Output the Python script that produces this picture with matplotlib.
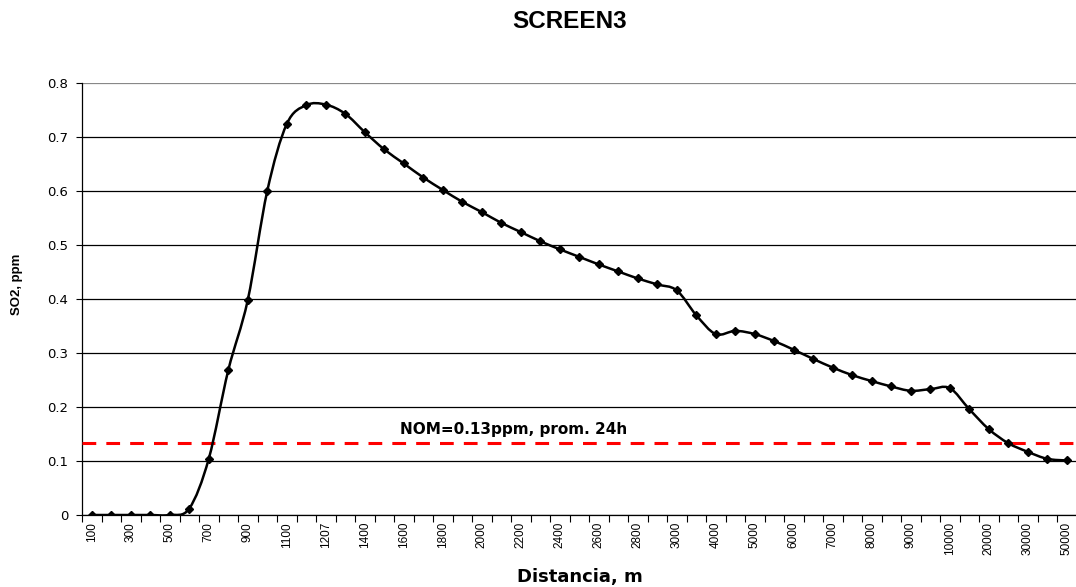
import matplotlib
matplotlib.use('Agg')
import matplotlib.pyplot as plt
from matplotlib.path import Path
from matplotlib.patches import PathPatch
import numpy as np

###       DATA        ###
distances = ['100', '200', '300', '400', '500', '600', '700', '800', '900', '1000',
             '1100', '1200', '1207', '1300', '1400', '1500', '1600', '1700', '1800', '1900',
             '2000', '2100', '2200', '2300', '2400', '2500', '2600', '2700', '2800', '2900',
             '3000', '3500', '4000', '4500', '5000', '5500', '6000', '6500', '7000', '7500',
             '8000', '8500', '9000', '9500', '10000', '15000', '20000', '25000', '30000', '40000',
             '50000']
so2 = [0.0, 0.0, 0.0, 0.0, 0.0, 0.012, 0.104, 0.268, 0.398, 0.600,
       0.724, 0.759, 0.760, 0.743, 0.709, 0.677, 0.651, 0.625, 0.602, 0.580,
       0.561, 0.541, 0.524, 0.507, 0.492, 0.478, 0.464, 0.451, 0.438, 0.427,
       0.416, 0.370, 0.335, 0.341, 0.335, 0.322, 0.306, 0.289, 0.273, 0.259,
       0.248, 0.238, 0.230, 0.233, 0.235, 0.196, 0.159, 0.133, 0.117, 0.104,
       0.101]
nom_value = 0.133
nom_label = 'NOM=0.13ppm, prom. 24h'
title = 'SCREEN3'
x_label = 'Distancia, m'
y_label = 'SO2, ppm'
y_ticks = [0, 0.1, 0.2, 0.3, 0.4, 0.5, 0.6, 0.7, 0.8]
y_tick_labels = ['0', '0.1', '0.2', '0.3', '0.4', '0.5', '0.6', '0.7', '0.8']
###                   ###

plt.rcParams['font.family'] = ['Liberation Sans', 'DejaVu Sans']

mydpi = 100
fig = plt.figure(figsize=(1076/mydpi, 587/mydpi), dpi=mydpi)
ax = fig.add_axes([82/1076, 72/587, 994.5/1076, 432/587])

x = np.arange(len(so2))
y = np.array(so2)

# smoothed line (Catmull-Rom as cubic bezier segments through the data points)
verts = [(x[0], y[0])]
codes = [Path.MOVETO]
for i in range(len(x) - 1):
    p0 = np.array([x[max(i-1, 0)], y[max(i-1, 0)]])
    p1 = np.array([x[i], y[i]])
    p2 = np.array([x[i+1], y[i+1]])
    p3 = np.array([x[min(i+2, len(x)-1)], y[min(i+2, len(x)-1)]])
    c1 = p1 + (p2 - p0) / 6.0
    c2 = p2 - (p3 - p1) / 6.0
    verts += [tuple(c1), tuple(c2), tuple(p2)]
    codes += [Path.CURVE4] * 3
ax.add_patch(PathPatch(Path(verts, codes), facecolor='none', edgecolor='black',
                       lw=1.8, zorder=4))
ax.plot(x, y, linestyle='none', marker='D', ms=4, color='black', zorder=5)

# NOM reference line
ax.axhline(nom_value, color='#FF0000', lw=2.2, dashes=(4.5, 3.3), zorder=3)
ax.text(15.8, nom_value + 0.012, nom_label, fontsize=11, fontweight='bold',
        family='DejaVu Sans', ha='left', va='bottom', zorder=6)

ax.set_xlim(-0.5, 50.5)
ax.set_ylim(0, 0.8)
ax.set_yticks(y_ticks)
ax.set_yticklabels(y_tick_labels, fontsize=9.5, family='DejaVu Sans')
ax.set_xticks(x[::2])
ax.set_xticklabels(distances[::2], rotation=90, fontsize=8.5, va='top')
ax.set_xticks(np.arange(-0.5, len(x)), minor=True)
ax.tick_params(axis='x', which='major', length=0, pad=5)
ax.tick_params(axis='x', which='minor', length=5, width=0.8, direction='out')
ax.tick_params(axis='y', length=4, width=0.8, direction='out', pad=6)

ax.grid(axis='y', color='black', lw=0.9)
ax.get_ygridlines()[-1].set_color('#888888')
ax.set_axisbelow(True)
for side in ['top', 'right']:
    ax.spines[side].set_visible(False)
ax.spines['left'].set_linewidth(0.9)
ax.spines['bottom'].set_linewidth(0.9)

fig.text(580/1076, 1 - 577/587, x_label, fontsize=13, fontweight='bold',
         family='DejaVu Sans', ha='center', va='center')
fig.text(17/1076, 1 - 284/587, y_label, fontsize=9.5, fontweight='bold',
         ha='center', va='center', rotation=90)
fig.text(570/1076, 1 - 22/587, title, fontsize=17.5, fontweight='bold',
         ha='center', va='center')

plt.savefig('out.png', dpi=mydpi, facecolor='white')
